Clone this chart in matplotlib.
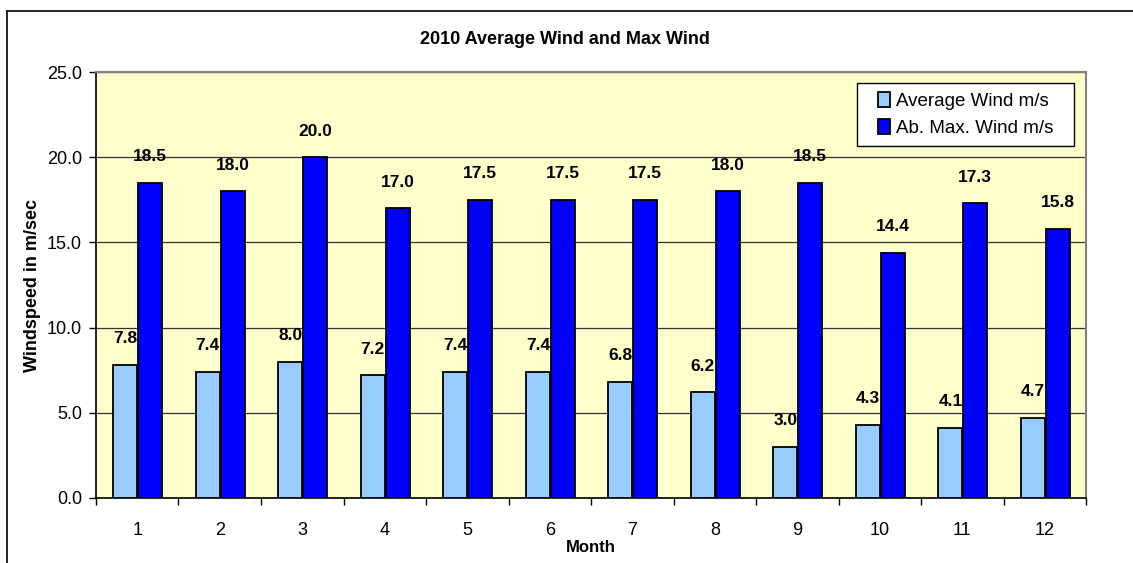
import matplotlib
matplotlib.use('Agg')
import matplotlib.pyplot as plt
import numpy as np
from matplotlib.patches import Rectangle
from matplotlib.lines import Line2D

plt.rcParams['font.family'] = ['Liberation Sans', 'DejaVu Sans']

months = [1, 2, 3, 4, 5, 6, 7, 8, 9, 10, 11, 12]
avg_wind = [7.8, 7.4, 8.0, 7.2, 7.4, 7.4, 6.8, 6.2, 3.0, 4.3, 4.1, 4.7]
max_wind = [18.5, 18.0, 20.0, 17.0, 17.5, 17.5, 17.5, 18.0, 18.5, 14.4, 17.3, 15.8]

fig = plt.figure(figsize=(11.33, 5.63), dpi=100)
ax = fig.add_axes([0.0847, 0.1155, 0.874, 0.7565])

# outer chart border (top and left edges only visible)
fig.lines.append(Line2D([7 / 1133, 1.0], [1 - 11 / 563] * 2, transform=fig.transFigure,
                        color='black', linewidth=1.2))
fig.lines.append(Line2D([7 / 1133] * 2, [0, 1 - 11 / 563], transform=fig.transFigure,
                        color='black', linewidth=1.2))

x = np.arange(len(months))
w = 0.29
ax.set_facecolor('#FFFFCC')
ax.set_axisbelow(True)
ax.yaxis.grid(True, color='#333333', linewidth=0.9)

b1 = ax.bar(x - 0.145, avg_wind, w, color='#99CCFF', edgecolor='black',
            linewidth=1.3, label='Average Wind m/s', zorder=3)
b2 = ax.bar(x + 0.155, max_wind, w, color='#0000FF', edgecolor='black',
            linewidth=1.3, label='Ab. Max. Wind m/s', zorder=3)

for i in range(len(months)):
    ax.text(x[i] - 0.145, avg_wind[i] + 1.1, f'{avg_wind[i]:.1f}', ha='center',
            va='bottom', fontsize=12.5, fontweight='bold')
    ax.text(x[i] + 0.155, max_wind[i] + 1.1, f'{max_wind[i]:.1f}', ha='center',
            va='bottom', fontsize=12.5, fontweight='bold')

ax.set_xlim(-0.5, len(months) - 0.5)
ax.set_ylim(0, 25)
ax.set_yticks([0, 5, 10, 15, 20, 25])
ax.set_yticklabels([f'{v:.1f}' for v in [0, 5, 10, 15, 20, 25]], fontsize=13)
ax.set_xticks(x)
ax.set_xticklabels([str(m) for m in months], fontsize=13)
ax.set_xticks(np.arange(-0.5, len(months)), minor=True)
ax.tick_params(axis='x', which='major', length=0, pad=17)
ax.tick_params(axis='x', which='minor', length=5, width=1, direction='out')
ax.tick_params(axis='y', length=5, width=1, direction='out', pad=5)

for s in ['left', 'bottom']:
    ax.spines[s].set_color('black')
    ax.spines[s].set_linewidth(1.2)
for s in ['top', 'right']:
    ax.spines[s].set_color('#808080')
    ax.spines[s].set_linewidth(1.5)

ax.set_xlabel('Month', fontsize=12, fontweight='bold', labelpad=1)
ax.set_ylabel('Windspeed in m/sec', fontsize=13, fontweight='bold', labelpad=4)
fig.text(0.499, 0.929, '2010 Average Wind and Max Wind', ha='center', va='center',
         fontsize=13, fontweight='bold')

# legend box drawn separately to match the wide padding
box_x0, box_x1 = (857 - 96) / 990, (1074 - 96) / 990
box_y0, box_y1 = (498 - 146) / 426, (498 - 83) / 426
ax.add_patch(Rectangle((box_x0, box_y0), box_x1 - box_x0, box_y1 - box_y0,
                       transform=ax.transAxes, facecolor='white', edgecolor='black',
                       linewidth=1.0, zorder=5))
leg = ax.legend(loc='center', bbox_to_anchor=((box_x0 + box_x1) / 2, (box_y0 + box_y1) / 2),
                fontsize=13.5, frameon=False,
                handlelength=0.65, handleheight=0.85, handletextpad=0.3,
                borderpad=0.2, labelspacing=0.45)
leg.set_zorder(6)

fig.savefig('out.png', dpi=100)
